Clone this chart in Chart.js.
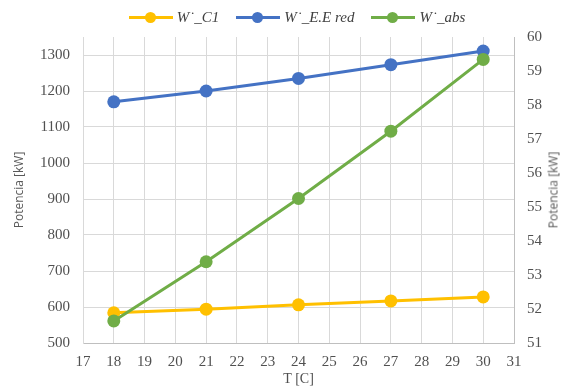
<!DOCTYPE html>
<html>
<head>
<meta charset="utf-8">
<script src="https://cdn.jsdelivr.net/npm/chart.js@4"></script>
<style>
    body { margin: 0; background: #fff; }
    #wrap { position: relative; width: 568px; height: 387px; }
    #legend {
        position: absolute; top: 7px; left: 0; width: 568px;
        display: flex; justify-content: center; gap: 17px;
        font: italic 15px "Liberation Serif", serif; color: #404040;
        padding-left: 26px; box-sizing: border-box;
    }
    .item { display: flex; align-items: center; }
    .swatch { position: relative; width: 44px; height: 20px; margin-right: 4px; }
    .swatch .ln { position: absolute; left: 0; right: 0; top: 9px; height: 3px; }
    .swatch .dot { position: absolute; left: 16px; top: 5px; width: 11px; height: 11px; border-radius: 50%; }
    #rtitle {
        position: absolute; left: 553px; top: 190px; transform: translate(-50%, -50%) rotate(-90deg);
        font: 12px "Open Sans", sans-serif; color: #595959; white-space: nowrap;
    }
</style>
</head>
<body>
<div id="wrap">
    <canvas id="chart" width="568" height="387"></canvas>
    <div id="legend"></div>
    <div id="rtitle">Potencia [kW]</div>
</div>
<script>
// ==============================
// DATA
// ==============================
const temps = [18, 21, 24, 27, 30];
const wC1 = [584, 594, 606, 617, 628];
const wEEred = [1170, 1200, 1235, 1273, 1311];
const wAbs = [51.65, 53.39, 55.25, 57.23, 59.34];

const seriesNames = ["W˙_C1", "W˙_E.E red", "W˙_abs"];
const seriesColors = ["#FFC000", "#4472C4", "#70AD47"];

const xTicks = [17, 31];          // min / max
const leftTicks = [500, 1350];
const rightTicks = [51, 60];

function toPoints(vals) {
    return temps.map((t, i) => ({ x: t, y: vals[i] }));
}

// ==============================
// LEGEND (html)
// ==============================
const legend = document.getElementById("legend");
seriesNames.forEach((name, i) => {
    const it = document.createElement("div");
    it.className = "item";
    it.innerHTML = `<span class="swatch"><span class="ln" style="background:${seriesColors[i]}"></span>` +
        `<span class="dot" style="background:${seriesColors[i]}"></span></span><span>${name}</span>`;
    legend.appendChild(it);
});

// ==============================
// CHART
// ==============================
const tickFont = { family: "Liberation Serif", size: 15 };
const tickColor = "#505050";
const gridColor = "#d9d9d9";

function lineSet(i, vals, axis, order) {
    return {
        label: seriesNames[i],
        data: toPoints(vals),
        borderColor: seriesColors[i],
        backgroundColor: seriesColors[i],
        borderWidth: 3,
        pointRadius: 6.5,
        pointHoverRadius: 6.5,
        pointBorderWidth: 0,
        yAxisID: axis,
        order: order
    };
}

new Chart(document.getElementById("chart"), {
    type: "line",
    data: {
        datasets: [
            lineSet(0, wC1, "y", 2),
            lineSet(1, wEEred, "y", 1),
            lineSet(2, wAbs, "y1", 0)
        ]
    },
    options: {
        responsive: false,
        animation: false,
        layout: { padding: { top: 37, left: 0, right: 0, bottom: 0 } },
        plugins: { legend: { display: false }, tooltip: { enabled: false } },
        scales: {
            x: {
                type: "linear",
                min: xTicks[0],
                max: xTicks[1],
                ticks: { stepSize: 1, font: tickFont, color: tickColor, padding: 10, format: { useGrouping: false } },
                grid: { color: gridColor, drawTicks: false },
                border: { color: "#bfbfbf" },
                title: { display: true, text: "T [C]", font: { family: "Liberation Serif", size: 14 }, color: tickColor, padding: { top: 0, bottom: -1 } },
                afterFit: s => { s.height = 44; }
            },
            y: {
                position: "left",
                min: leftTicks[0],
                max: leftTicks[1],
                ticks: { stepSize: 100, font: tickFont, color: tickColor, padding: 13, format: { useGrouping: false } },
                afterBuildTicks: s => { s.ticks = s.ticks.filter(t => t.value <= 1300); },
                grid: { color: gridColor, drawTicks: false },
                border: { color: gridColor },
                title: { display: true, text: "Potencia [kW]", font: { family: "Open Sans", size: 12 }, color: "#595959", padding: { top: 12 } },
                afterFit: s => { s.width = 83; }
            },
            y1: {
                position: "right",
                min: rightTicks[0],
                max: rightTicks[1],
                ticks: { stepSize: 1, font: tickFont, color: tickColor, padding: 13 },
                grid: { display: false, drawTicks: false },
                border: { color: "#bfbfbf" },
                afterFit: s => { s.width = 54; }
            }
        }
    }
});
</script>
</body>
</html>
